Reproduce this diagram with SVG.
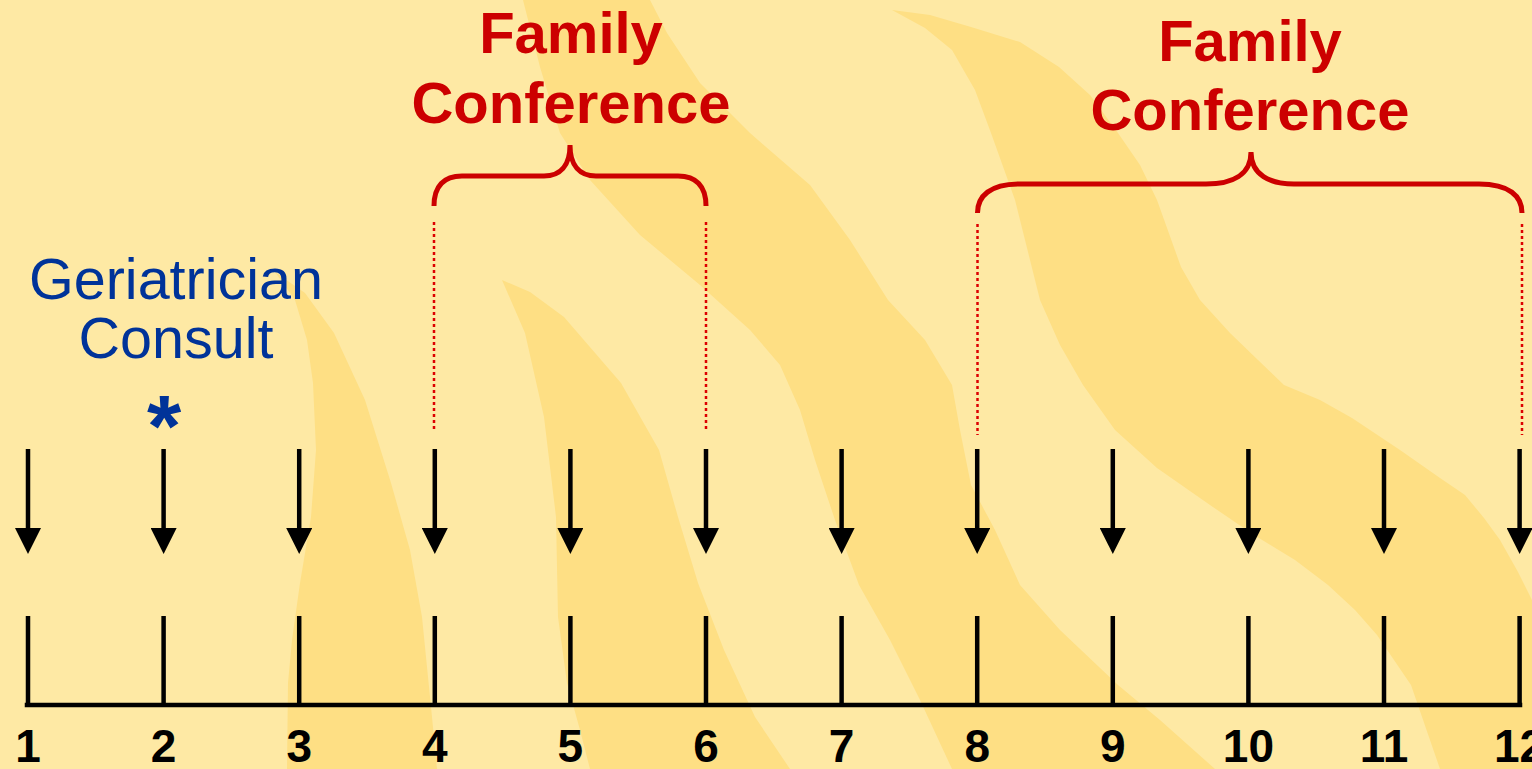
<svg xmlns="http://www.w3.org/2000/svg" width="1532" height="769" viewBox="0 0 1532 769">
  <defs>
    <style>
      .bg { fill: #FEE9A4; }
      .flame { fill: #FEDF84; }
      .shaft { stroke: #000; stroke-width: 4.5; fill: none; }
      .tick { stroke: #000; stroke-width: 4.5; fill: none; }
      .axis { stroke: #000; stroke-width: 4.5; fill: none; stroke-linecap: square; }
      .brace { stroke: #CC0000; stroke-width: 5; fill: none; }
      .guide { stroke: #DD0000; stroke-width: 2.5; stroke-dasharray: 3 3; fill: none; }
      .num { font-family: "Liberation Sans", Arial, sans-serif; font-weight: bold; font-size: 46px; fill: #000; text-anchor: middle; }
      .fam { font-family: "Liberation Sans", Arial, sans-serif; font-weight: bold; font-size: 58px; fill: #CC0000; text-anchor: middle; }
      .geri { font-family: "Liberation Sans", Arial, sans-serif; font-size: 57.5px; fill: #003399; text-anchor: middle; }
      .star { font-family: "Liberation Sans", Arial, sans-serif; font-weight: bold; font-size: 88px; fill: #003399; text-anchor: middle; }
    </style>
    <marker id="head" viewBox="0 0 26 26" refX="0" refY="13" markerWidth="26" markerHeight="26" markerUnits="userSpaceOnUse" orient="auto">
      <path d="M0,0 L26,13 L0,26 Z" fill="#000"/>
    </marker>
  </defs>

  <!-- backdrop with flame swirls -->
  <g id="background">
    <rect class="bg" x="0" y="0" width="1532" height="769"/>
    <path class="flame" d="M523,0 L540,67 L560,133 L590,180 L640,235 L700,285 L750,330 L780,365 L800,410 L815,460 L835,520 L859,585 L890,640 L920,700 L952,769 L1215,769 L1160,720 L1118,685 L1060,630 L1020,585 L995,530 L971,485 L960,430 L952,385 L925,340 L888,300 L850,240 L810,185 L750,133 L700,83 L667,33 L650,0 Z"/>
    <path class="flame" d="M892,10 L925,28 L952,50 L975,90 L991,133 L1015,200 L1040,300 L1060,345 L1083,385 L1115,430 L1157,468 L1210,505 L1254,535 L1295,560 L1328,585 L1355,610 L1377,635 L1411,685 L1440,769 L1532,769 L1532,600 L1518,572 L1500,540 L1484,518 L1465,495 L1440,478 L1400,450 L1352,418 L1320,400 L1284,385 L1230,333 L1200,300 L1181,267 L1157,200 L1140,165 L1118,133 L1090,95 L1059,67 L1020,42 L971,27 L930,15 Z"/>
    <path class="flame" d="M502,280 L525,333 L544,417 L556,517 L558,617 L567,683 L580,730 L590,769 L790,769 L755,717 L724,650 L698,583 L678,517 L659,450 L621,383 L564,317 L530,292 Z"/>
    <path class="flame" d="M275,272 L295,300 L307,340 L313,383 L316,450 L311,517 L300,583 L292,640 L288,683 L287,769 L437,769 L432,717 L422,617 L410,550 L391,483 L365,400 L334,333 L305,293 Z"/>
  </g>

  <!-- timeline arrows, ticks, axis, braces and guide lines -->
  <g id="connectors">
    <path class="axis" d="M27,705 L1520,705"/>
    <g id="ticks">
      <path class="tick" d="M28,616 V705"/>
      <path class="tick" d="M163.6,616 V705"/>
      <path class="tick" d="M299.2,616 V705"/>
      <path class="tick" d="M434.8,616 V705"/>
      <path class="tick" d="M570.4,616 V705"/>
      <path class="tick" d="M706,616 V705"/>
      <path class="tick" d="M841.6,616 V705"/>
      <path class="tick" d="M977.2,616 V705"/>
      <path class="tick" d="M1112.8,616 V705"/>
      <path class="tick" d="M1248.4,616 V705"/>
      <path class="tick" d="M1384,616 V705"/>
      <path class="tick" d="M1519.6,616 V705"/>
    </g>
    <g id="arrows">
      <path class="shaft" marker-end="url(#head)" d="M28,449 V528"/>
      <path class="shaft" marker-end="url(#head)" d="M163.6,449 V528"/>
      <path class="shaft" marker-end="url(#head)" d="M299.2,449 V528"/>
      <path class="shaft" marker-end="url(#head)" d="M434.8,449 V528"/>
      <path class="shaft" marker-end="url(#head)" d="M570.4,449 V528"/>
      <path class="shaft" marker-end="url(#head)" d="M706,449 V528"/>
      <path class="shaft" marker-end="url(#head)" d="M841.6,449 V528"/>
      <path class="shaft" marker-end="url(#head)" d="M977.2,449 V528"/>
      <path class="shaft" marker-end="url(#head)" d="M1112.8,449 V528"/>
      <path class="shaft" marker-end="url(#head)" d="M1248.4,449 V528"/>
      <path class="shaft" marker-end="url(#head)" d="M1384,449 V528"/>
      <path class="shaft" marker-end="url(#head)" d="M1519.6,449 V528"/>
    </g>
    <path class="brace" d="M434,206 C434,186 444,176 462,176 L544,176 C560,176 570,166 570,145 C570,166 580,176 596,176 L678,176 C696,176 706,186 706,206"/>
    <path class="brace" d="M977.5,213 C977.5,196 990,184 1020,184 L1206,184 C1232,184 1251,175 1251,152 C1251,175 1270,184 1294,184 L1479,184 C1509,184 1522,196 1522,213"/>
    <path class="guide" d="M434,222 V432"/>
    <path class="guide" d="M706,222 V432"/>
    <path class="guide" d="M977.5,224 V435"/>
    <path class="guide" d="M1522,224 V435"/>
  </g>

  <!-- labels -->
  <g id="geriatrician-consult">
    <text class="geri" x="176" y="299">Geriatrician</text>
    <text class="geri" x="176" y="358">Consult</text>
    <text class="star" x="164" y="456">*</text>
  </g>
  <g id="family-conference-1">
    <text class="fam" x="571" y="53">Family</text>
    <text class="fam" x="571" y="123">Conference</text>
  </g>
  <g id="family-conference-2">
    <text class="fam" x="1250" y="61">Family</text>
    <text class="fam" x="1250" y="130">Conference</text>
  </g>
  <g id="time-points">
    <text class="num" x="28" y="762">1</text>
    <text class="num" x="163.6" y="762">2</text>
    <text class="num" x="299.2" y="762">3</text>
    <text class="num" x="434.8" y="762">4</text>
    <text class="num" x="570.4" y="762">5</text>
    <text class="num" x="706" y="762">6</text>
    <text class="num" x="841.6" y="762">7</text>
    <text class="num" x="977.2" y="762">8</text>
    <text class="num" x="1112.8" y="762">9</text>
    <text class="num" x="1248.4" y="762">10</text>
    <text class="num" x="1384" y="762">11</text>
    <text class="num" x="1519.6" y="762">12</text>
  </g>
</svg>
